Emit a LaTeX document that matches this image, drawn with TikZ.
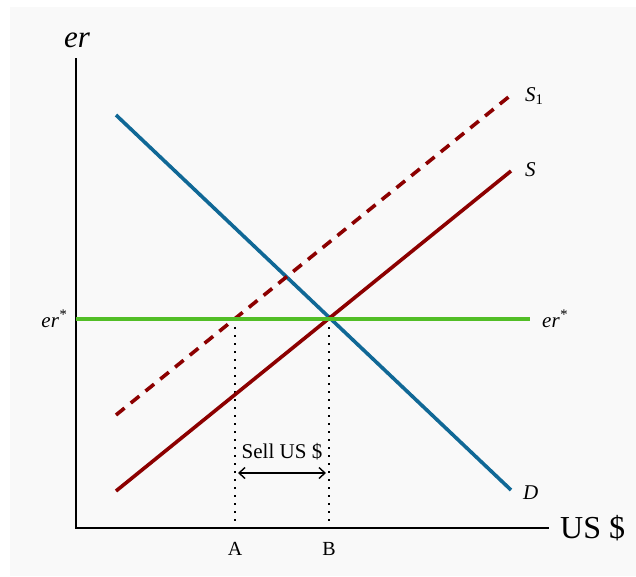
\documentclass[tikz,border=0pt]{standalone}
\usepackage{fontspec}
\setmainfont{Liberation Serif}
\usetikzlibrary{arrows.meta}
\definecolor{bggray}{RGB}{249,249,249}
\definecolor{dblue}{RGB}{16,104,150}
\definecolor{dred}{RGB}{140,0,0}
\definecolor{lgreen}{RGB}{82,190,38}
\begin{document}
\begin{tikzpicture}[x=1pt,y=-1pt,
  axis/.style={line width=1.8pt,black},
  curve/.style={line width=3.6pt},
  guide/.style={line width=2pt,dash pattern=on 2pt off 6pt},
  lbl/.style={font=\fontsize{21}{24}\selectfont\itshape,inner sep=0pt},
  tick/.style={font=\fontsize{20}{23}\selectfont,inner sep=0pt}]
\useasboundingbox (0,0) rectangle (636,576);
\fill[white] (0,0) rectangle (636,576);
\fill[bggray] (10,7) rectangle (636,576);
% axes
\coordinate (top) at (76,58);
\coordinate (orig) at (76,528);
\coordinate (xend) at (549,528);
\draw[axis] (top) -- (orig) -- (xend);
\node[font=\fontsize{32}{35}\selectfont,inner sep=0pt,anchor=west] (xl) at (560,528) {US \$};
\node[font=\fontsize{31}{33}\selectfont\itshape,inner sep=0pt] (yl) at (77,40) {er};
% curves
\coordinate (d1) at (116,115); \coordinate (d2) at (511,490);
\coordinate (s1) at (116,491); \coordinate (s2) at (511,171);
\coordinate (t1) at (116,415); \coordinate (t2) at (511,95);
\coordinate (g1) at (76,319); \coordinate (g2) at (530,319);
\coordinate (pA) at (235,319); \coordinate (pB) at (329,319);
\coordinate (bA) at (235,528); \coordinate (bB) at (329,528);
\draw[guide] (pA) -- (bA);
\draw[guide] (pB) -- (bB);
\draw[curve,dblue] (d1) -- (d2);
\draw[curve,dred] (s1) -- (s2);
\draw[curve,dred,dash pattern=on 11pt off 8pt] (t1) -- (t2);
\draw[curve,lgreen] (g1) -- (g2);
% labels
\node[lbl,anchor=west] (lS1) at (525,96) {S\textsubscript{\upshape 1}};
\node[lbl,anchor=west] (lS) at (525,170) {S};
\node[lbl,anchor=west] (lD) at (523,493) {D};
\node[lbl,anchor=east] (erl) at (67,319) {er\textsuperscript{*}};
\node[lbl,anchor=west] (err) at (542,319) {er\textsuperscript{*}};
\node[tick] (A) at (235,549) {A};
\node[tick] (B) at (329,549) {B};
% arrow
\coordinate (aL) at (238,473); \coordinate (aR) at (326,473);
\draw[line width=1.4pt,{Straight Barb[length=6pt,width=11pt]}-{Straight Barb[length=6pt,width=11pt]}] (aL) -- (aR);
\node[tick,font=\fontsize{21}{24}\selectfont] (sell) at (282,452) {Sell US \$};
\end{tikzpicture}
\end{document}
